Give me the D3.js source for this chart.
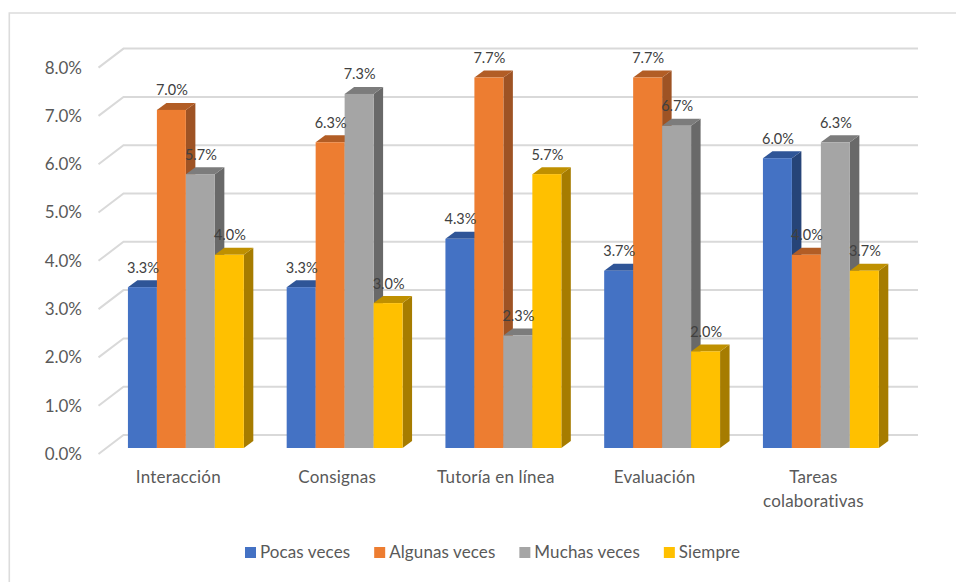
<!DOCTYPE html>
<html><head><meta charset="utf-8">
<script src="https://cdn.jsdelivr.net/npm/d3@7"></script>
<style>html,body{margin:0;padding:0;background:#fff}svg{display:block}text{font-family:Lato,"Open Sans",sans-serif}</style>
</head><body><svg id="c" width="956" height="582"></svg>
<script>
const categories=[["Interacción"],["Consignas"],["Tutoría en línea"],["Evaluación"],["Tareas","colaborativas"]];
const seriesNames=["Pocas veces","Algunas veces","Muchas veces","Siempre"];
const pocasVeces=[3.33,3.33,4.33,3.67,6.0];
const algunasVeces=[7.0,6.33,7.67,7.67,4.0];
const muchasVeces=[5.67,7.33,2.33,6.67,6.33];
const siempre=[4.0,3.0,5.67,2.0,3.67];
const seriesValues=[pocasVeces,algunasVeces,muchasVeces,siempre];
const tickValues=[0,1,2,3,4,5,6,7,8];
const faceColors=["#4472c4","#ed7d31","#a5a5a5","#ffc000"];
const topColors=["#2f5597","#b25d25","#7c7c7c","#bf9000"];
const sideColors=["#264478","#9e5324","#696969","#a67c00"];

const svg=d3.select("#c");
svg.append("path").attr("d","M9.3,582V13H956")
  .attr("fill","none").attr("stroke","#dcdcdc").attr("stroke-width",1.6);

const y=d3.scaleLinear().domain([0,8]).range([448,61.6]);
const x0=d3.scaleBand().domain(d3.range(categories.length)).range([106.5,900.25]).paddingInner(0.27).paddingOuter(0.135);
const x1=d3.scaleBand().domain(d3.range(seriesNames.length)).range([0,x0.bandwidth()]);
const dxBar=9.5,dyBar=7;
const wallDx=17,wallDy=13,frontDx=8,frontDy=6;

const grid=svg.append("g").attr("fill","none").attr("stroke","#d9d9d9").attr("stroke-width",2);
tickValues.forEach(t=>{
  const yy=y(t);
  grid.append("path").attr("d",`M${106.5-frontDx},${yy+frontDy}L${106.5+wallDx},${yy-wallDy}H918`);
});
const yAxis=d3.axisLeft(y).tickValues(tickValues).tickFormat(d=>d.toFixed(1)+"%").tickSize(0).tickPadding(0);
const ag=svg.append("g").attr("transform","translate(82,6)").call(yAxis);
ag.select(".domain").remove();
ag.selectAll("text").attr("fill","#595959").style("font-size","17px").style("font-family","Lato,sans-serif");

const bars=svg.append("g");
categories.forEach((c,ci)=>{
  seriesValues.forEach((vals,si)=>{
    const v=vals[ci];
    const xl=x0(ci)+x1(si),w=x1.bandwidth(),yt=y(v),yb=y(0);
    bars.append("path").attr("fill",sideColors[si])
      .attr("d",`M${xl+w},${yt}L${xl+w+dxBar},${yt-dyBar}V${yb-dyBar}L${xl+w},${yb}Z`);
    bars.append("path").attr("fill",topColors[si])
      .attr("d",`M${xl},${yt}L${xl+dxBar},${yt-dyBar}H${xl+w+dxBar}L${xl+w},${yt}Z`);
    bars.append("rect").attr("x",xl).attr("y",yt).attr("width",w).attr("height",yb-yt).attr("fill",faceColors[si]);
  });
});
const lab=svg.append("g").attr("text-anchor","middle").attr("fill","#404040").style("font-size","14.5px");
categories.forEach((c,ci)=>{
  seriesValues.forEach((vals,si)=>{
    lab.append("text").attr("x",x0(ci)+x1(si)+x1.bandwidth()/2+0.5).attr("y",y(vals[ci])-14.5)
      .text(vals[ci].toFixed(1)+"%");
  });
});
const cg=svg.append("g").attr("text-anchor","middle").attr("fill","#595959").style("font-size","17px").style("letter-spacing","0.2px");
categories.forEach((lines,ci)=>{
  lines.forEach((s,i)=>{
    cg.append("text").attr("x",x0(ci)+x0.bandwidth()/2-7.5).attr("y",483+i*24).text(s);
  });
});
const lg=svg.append("g");
let lx=245;
seriesNames.forEach((s,i)=>{
  lg.append("rect").attr("x",lx).attr("y",547).attr("width",11).attr("height",11).attr("fill",faceColors[i]);
  const t=lg.append("text").attr("x",lx+15).attr("y",558).attr("fill","#595959").style("font-size","17px").style("letter-spacing","0.1px").text(s);
  lx+=15+t.node().getComputedTextLength()+24;
});
</script></body></html>
